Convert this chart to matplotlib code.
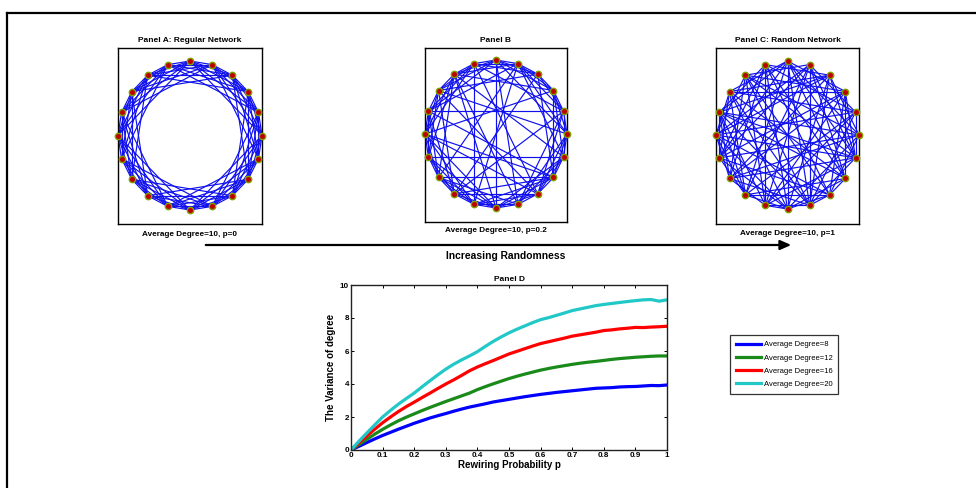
import numpy as np
import matplotlib
matplotlib.use("Agg")
import matplotlib.pyplot as plt
from matplotlib.lines import Line2D
from matplotlib.patches import FancyArrowPatch

plt.rcParams['font.family'] = ['Liberation Sans', 'DejaVu Sans']

# ---------------- data ----------------
n_nodes = 20
ring_offsets = [1, 2, 3, 4, 5]          # regular ring lattice, average degree 10

# Panel B: lattice edges removed by rewiring, and the rewired edges
panel_b_removed = [(0, 3), (1, 5), (2, 6), (3, 7), (4, 8), (5, 10), (6, 11), (7, 9),
                   (8, 12), (9, 14), (10, 13), (11, 16), (12, 17), (13, 16), (14, 19),
                   (15, 0), (16, 18), (17, 2), (18, 1), (19, 3)]
panel_b_added = [(5, 15), (6, 14), (11, 19), (12, 18), (3, 13), (7, 16), (2, 10), (8, 17),
                 (1, 9), (4, 12), (0, 8), (9, 18), (10, 17), (1, 13), (4, 14), (7, 15),
                 (5, 16), (6, 17), (10, 18), (7, 19)]

# Panel C: random network adjacency (neighbours with larger index)
panel_c_adjacency = {
    0: [3, 7, 9, 12, 15, 17, 5, 11],
    1: [4, 6, 10, 13, 16, 19, 8, 14],
    2: [5, 8, 11, 14, 17, 18, 7, 12, 19],
    3: [6, 9, 12, 15, 19, 8, 10, 16],
    4: [7, 10, 11, 16, 18, 13, 14, 19],
    5: [8, 9, 13, 16, 19, 11, 15, 18],
    6: [9, 11, 14, 17, 18, 12, 15],
    7: [10, 12, 14, 19, 16, 17],
    8: [10, 13, 15, 18, 11, 16],
    9: [11, 14, 16, 18, 19, 12, 13],
    10: [12, 15, 17, 13, 19],
    11: [13, 15, 17],
    12: [14, 16, 19],
    13: [15, 17, 18],
    14: [16, 19, 15],
    15: [17, 18],
    16: [17, 19],
    17: [18],
}

panel_titles = ["Panel A: Regular Network", "Panel B", "Panel C: Random Network"]
panel_captions = ["Average Degree=10, p=0", "Average Degree=10, p=0.2",
                  "Average Degree=10, p=1"]

p_values = [0.000, 0.025, 0.050, 0.075, 0.100, 0.125, 0.150, 0.175, 0.200, 0.225,
            0.250, 0.275, 0.300, 0.325, 0.350, 0.375, 0.400, 0.425, 0.450, 0.475,
            0.500, 0.525, 0.550, 0.575, 0.600, 0.625, 0.650, 0.675, 0.700, 0.725,
            0.750, 0.775, 0.800, 0.825, 0.850, 0.875, 0.900, 0.925, 0.950, 0.975, 1.000]
var_deg8 = [0.00, 0.22, 0.45, 0.67, 0.88, 1.07, 1.26, 1.44, 1.62, 1.78, 1.94, 2.08,
            2.21, 2.35, 2.48, 2.60, 2.70, 2.80, 2.91, 2.99, 3.07, 3.15, 3.23, 3.30,
            3.37, 3.43, 3.49, 3.54, 3.59, 3.64, 3.69, 3.74, 3.76, 3.78, 3.82, 3.84,
            3.85, 3.88, 3.91, 3.90, 3.94]
var_deg12 = [0.00, 0.33, 0.65, 0.96, 1.25, 1.52, 1.77, 1.99, 2.19, 2.39, 2.58, 2.76,
             2.94, 3.11, 3.28, 3.45, 3.66, 3.84, 4.01, 4.17, 4.33, 4.47, 4.60, 4.72,
             4.84, 4.94, 5.03, 5.11, 5.19, 5.26, 5.32, 5.37, 5.43, 5.49, 5.54, 5.58,
             5.62, 5.65, 5.68, 5.70, 5.70]
var_deg16 = [0.00, 0.43, 0.85, 1.26, 1.65, 2.00, 2.33, 2.63, 2.90, 3.18, 3.45, 3.73,
             4.00, 4.25, 4.52, 4.80, 5.03, 5.23, 5.42, 5.62, 5.82, 5.98, 6.14, 6.30,
             6.45, 6.56, 6.67, 6.78, 6.90, 6.98, 7.06, 7.14, 7.24, 7.28, 7.34, 7.38,
             7.43, 7.42, 7.45, 7.47, 7.50]
var_deg20 = [0.00, 0.53, 1.03, 1.52, 2.00, 2.40, 2.78, 3.12, 3.45, 3.83, 4.20, 4.56,
             4.90, 5.20, 5.46, 5.70, 5.96, 6.28, 6.58, 6.85, 7.10, 7.32, 7.52, 7.72,
             7.90, 8.02, 8.16, 8.30, 8.45, 8.55, 8.65, 8.75, 8.82, 8.88, 8.94, 9.00,
             9.05, 9.10, 9.12, 9.02, 9.10]
series_labels = ["Average Degree=8", "Average Degree=12", "Average Degree=16",
                 "Average Degree=20"]
series_colors = ["#0000ff", "#1a8a1a", "#ff0000", "#22c8c8"]

x_ticks = [0, 0.1, 0.2, 0.3, 0.4, 0.5, 0.6, 0.7, 0.8, 0.9, 1]
x_tick_labels = ["0", "0.1", "0.2", "0.3", "0.4", "0.5", "0.6", "0.7", "0.8", "0.9", "1"]
y_ticks = [0, 2, 4, 6, 8, 10]

# ---------------- build edge sets ----------------
lattice_edges = [(i, (i + k) % n_nodes) for i in range(n_nodes) for k in ring_offsets]
removed = set(frozenset(e) for e in panel_b_removed)
edges_b = [e for e in lattice_edges if frozenset(e) not in removed] + panel_b_added
edges_c = [(i, j) for i, nb in panel_c_adjacency.items() for j in nb]
panel_edges = [lattice_edges, edges_b, edges_c]

angles = np.deg2rad(np.arange(n_nodes) * 360.0 / n_nodes)
node_x = np.cos(angles)
node_y = np.sin(angles)

# ---------------- figure ----------------
W, H = 976, 488
fig = plt.figure(figsize=(W / 100, H / 100), dpi=100)


def fr(l, t, r, b):
    return [l / W, 1 - b / H, (r - l) / W, (b - t) / H]


# outer frame
fig.add_artist(Line2D([7 / W, 1.0], [1 - 13 / H, 1 - 13 / H], color='black', lw=1.6,
                      transform=fig.transFigure))
fig.add_artist(Line2D([7 / W, 7 / W], [0, 1 - 13 / H], color='black', lw=1.6,
                      transform=fig.transFigure))

boxes = [(118, 48, 262, 224), (425, 48, 567, 222), (716, 48, 859, 224)]
node_extent = [(61, 210), (60, 208), (61, 209)]
caption_y = [234, 231, 233]

for idx in range(3):
    l, t, r, b = boxes[idx]
    ax = fig.add_axes(fr(l, t, r, b))
    ntop, nbot = node_extent[idx]
    cy = (ntop + nbot) / 2
    ry = (nbot - ntop) / 2
    ax.set_xlim(-1, 1)
    ax.set_ylim(-(b - cy) / ry, (cy - t) / ry)
    for i, j in panel_edges[idx]:
        ax.plot([node_x[i], node_x[j]], [node_y[i], node_y[j]], color='#1010ee',
                lw=0.85, solid_capstyle='round', clip_on=False, zorder=2)
    ax.plot(node_x, node_y, 'o', ms=4.6, mfc='#c00000', mec='#7fa000', mew=1.0,
            ls='none', clip_on=False, zorder=3)
    ax.set_xticks([])
    ax.set_yticks([])
    for s in ax.spines.values():
        s.set_linewidth(1.0)
    ax.set_title(panel_titles[idx], fontsize=6.0, fontweight='bold', pad=4)
    fig.text((l + r) / 2 / W, 1 - caption_y[idx] / H, panel_captions[idx],
             ha='center', va='center', fontsize=5.9, fontweight='bold')

# arrow
arr = FancyArrowPatch((203 / W, 1 - 245 / H), (794 / W, 1 - 245 / H),
                      transform=fig.transFigure,
                      arrowstyle='-|>,head_length=5,head_width=2.2',
                      color='black', lw=1.6, mutation_scale=1.3)
fig.add_artist(arr)
fig.text(506 / W, 1 - 256 / H, "Increasing Randomness", ha='center', va='center',
         fontsize=7.4, fontweight='bold')

# Panel D
axd = fig.add_axes(fr(351, 285, 667, 450))
series = [var_deg8, var_deg12, var_deg16, var_deg20]
handles = []
for vals, lab, col in zip(series, series_labels, series_colors):
    h, = axd.plot(p_values, vals, color=col, lw=2.3, label=lab)
    handles.append(h)
axd.set_xlim(0, 1)
axd.set_ylim(0, 10)
axd.set_xticks(x_ticks)
axd.set_xticklabels(x_tick_labels)
axd.set_yticks(y_ticks)
axd.tick_params(direction='in', top=True, right=True, length=2.5, width=0.7,
                labelsize=5.8, pad=1.5)
for lab in axd.get_xticklabels() + axd.get_yticklabels():
    lab.set_fontweight('bold')
for s in axd.spines.values():
    s.set_linewidth(1.0)
    s.set_color('#222222')
axd.set_title("Panel D", fontsize=6.0, fontweight='bold', pad=3)
axd.set_xlabel("Rewiring Probability p", fontsize=7.0, fontweight='bold', labelpad=1)
axd.set_ylabel("The Variance of degree", fontsize=7.0, fontweight='bold', labelpad=3)

leg = fig.legend(handles=handles, loc='upper left',
                 bbox_to_anchor=(730 / W, 1 - 335 / H), bbox_transform=fig.transFigure,
                 fontsize=5.5, frameon=True, fancybox=False, edgecolor='black',
                 handlelength=3.2, handletextpad=0.4, borderpad=0.8, labelspacing=0.75,
                 borderaxespad=0)
leg.get_frame().set_linewidth(0.9)
for ln in leg.get_lines():
    ln.set_linewidth(2.3)

fig.savefig("out.png", dpi=100)
